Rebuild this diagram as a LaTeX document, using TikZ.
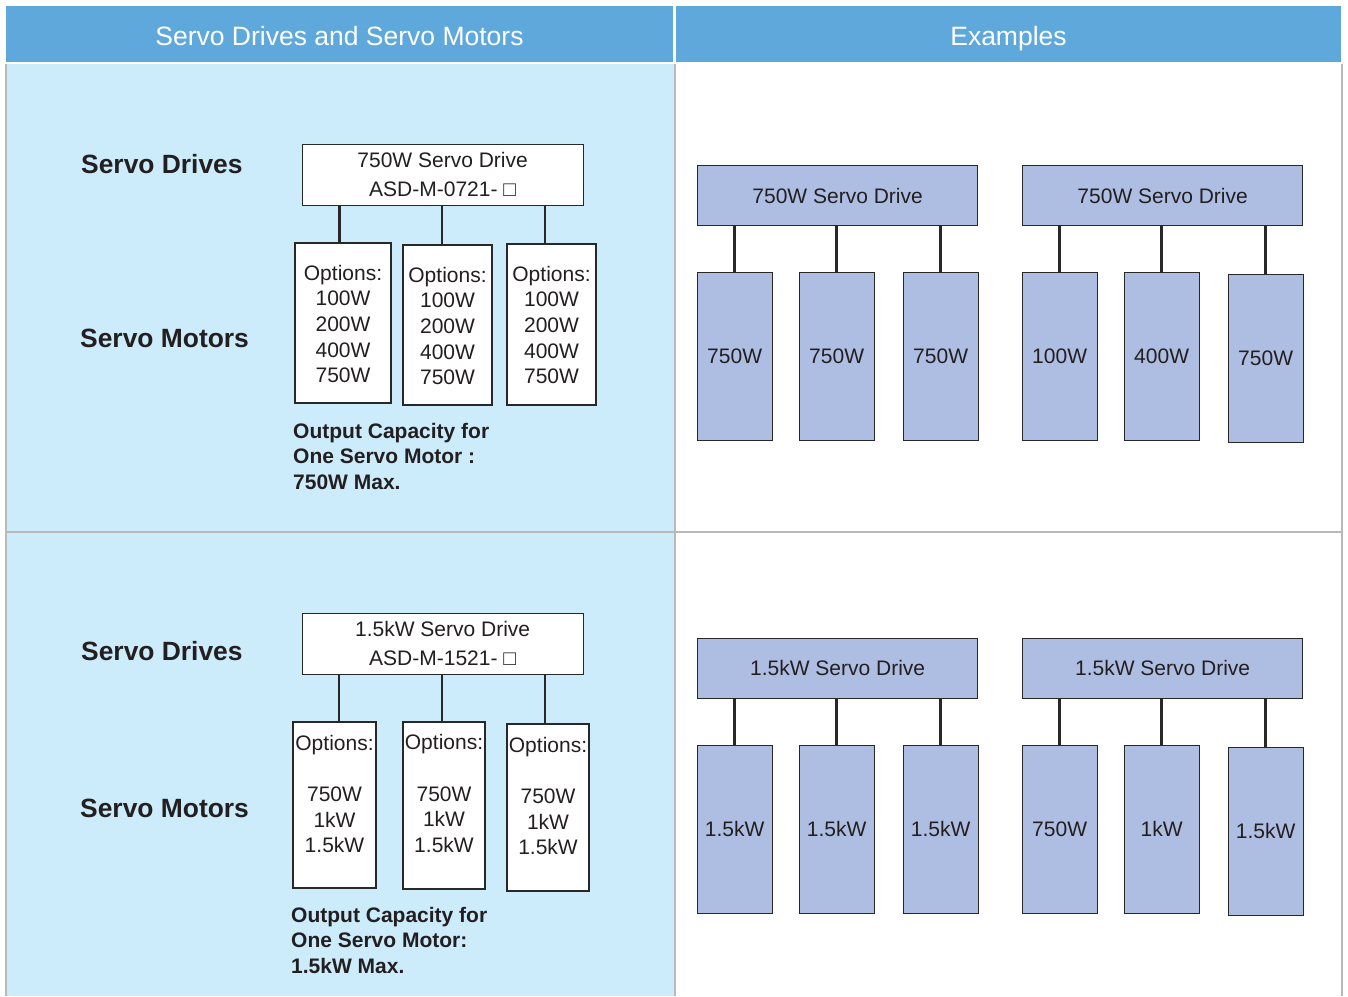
\documentclass[tikz,border=0pt]{standalone}
\usepackage{fontspec}
\setmainfont{Liberation Sans}
\usetikzlibrary{calc}
\definecolor{hdrblue}{RGB}{95,168,220}
\definecolor{paneblue}{RGB}{204,235,251}
\definecolor{boxfill}{RGB}{174,189,226}
\definecolor{gridgray}{RGB}{185,185,185}
\definecolor{textdark}{RGB}{35,31,32}
\definecolor{linedark}{RGB}{40,40,40}
\tikzset{
  hdrtext/.style={text=white, font=\fontsize{26.5}{30}\selectfont, inner sep=0, anchor=base},
  sidelabel/.style={text=textdark, font=\bfseries\fontsize{26.4}{30}\selectfont, anchor=west, inner sep=0},
  capnote/.style={text=textdark, font=\bfseries\fontsize{21}{25.5}\selectfont, anchor=north west, align=left, inner sep=0},
  drivebox/.style={draw=linedark, line width=1.3pt, fill=white, minimum width=281, minimum height=61, inner sep=0, text=textdark, align=center, font=\fontsize{21}{29}\selectfont},
  optbox/.style={draw=linedark, line width=1.3pt, fill=white, inner sep=0},
  opttext/.style={text=textdark, align=center, inner sep=0, font=\fontsize{21}{25.6}\selectfont},
  exdrive/.style={draw=linedark, line width=1.3pt, fill=boxfill, minimum width=280, minimum height=60, inner sep=0, text=textdark, font=\fontsize{21}{25}\selectfont},
  exmotor/.style={draw=linedark, line width=1.3pt, fill=boxfill, minimum width=75, minimum height=168, inner sep=0, text=textdark, font=\fontsize{21}{25}\selectfont},
  conn/.style={draw=linedark, line width=2.6pt},
  gridline/.style={draw=gridgray, line width=2pt}
}
\begin{document}
\begin{tikzpicture}[x=1pt,y=-1pt]
\useasboundingbox (0,0) rectangle (1348,996);
% headers
\fill[hdrblue] (6,6) rectangle (673,62);
\fill[hdrblue] (676,6) rectangle (1341,62);
\node[hdrtext] (h1) at (339.5,45.5) {Servo Drives and Servo Motors};
\node[hdrtext] (h2) at (1008.5,45.5) {Examples};
% panes
\fill[paneblue] (6,64) rectangle (674,996);
\draw[gridline] (6,64) -- (6,996);
\draw[gridline] (674.5,64) -- (674.5,996);
\draw[gridline] (1342,64) -- (1342,996);
\draw[gridline] (6,531.5) -- (1342,531.5);

% ===== top-left =====
\node[sidelabel] (sd1) at (81,164) {Servo Drives};
\node[sidelabel] (sm1) at (80,338) {Servo Motors};
\node[drivebox, anchor=north west] (d1) at (301.5,143.5) {750W Servo Drive\\ASD-M-0721- □};
\node[optbox, minimum width=96, minimum height=160] (o11) at (343,323) {};
\node[optbox, minimum width=89, minimum height=160] (o12) at (447.5,325) {};
\node[optbox, minimum width=89, minimum height=161] (o13) at (551.5,324.5) {};
\node[opttext] (t11) at (343,324) {Options:\\100W\\200W\\400W\\750W};
\node[opttext] (t12) at (447.5,326) {Options:\\100W\\200W\\400W\\750W};
\node[opttext] (t13) at (551.5,325) {Options:\\100W\\200W\\400W\\750W};
\draw[conn] ([xshift=38]d1.south west) -- ([xshift=38]d1.south west |- o11.north);
\draw[conn] ([xshift=140.5]d1.south west) -- ([xshift=140.5]d1.south west |- o12.north);
\draw[conn] ([xshift=243.5]d1.south west) -- ([xshift=243.5]d1.south west |- o13.north);
\node[capnote] (c1) at (293,423) {Output Capacity for\\One Servo Motor :\\750W Max.};

% ===== top-right =====
\node[exdrive, anchor=north west] (e1) at (697,165) {750W Servo Drive};
\node[exdrive, anchor=north west] (e2) at (1022,165) {750W Servo Drive};
\node[exmotor, anchor=north west] (m11) at (696.5,272) {750W};
\node[exmotor, anchor=north west] (m12) at (798.5,272) {750W};
\node[exmotor, anchor=north west] (m13) at (902.5,272) {750W};
\node[exmotor, anchor=north west] (m21) at (1021.5,272) {100W};
\node[exmotor, anchor=north west] (m22) at (1123.5,272) {400W};
\node[exmotor, anchor=north west] (m23) at (1227.5,274) {750W};
\foreach \m/\d in {m11/e1,m12/e1,m13/e1,m21/e2,m22/e2,m23/e2}
  \draw[conn] (\m.north |- \d.south) -- (\m.north);

% ===== bottom-left =====
\node[sidelabel] (sd2) at (81,651) {Servo Drives};
\node[sidelabel] (sm2) at (80,808) {Servo Motors};
\node[drivebox, anchor=north west] (d2) at (301.5,612.5) {1.5kW Servo Drive\\ASD-M-1521- □};
\node[optbox, minimum width=83, minimum height=166] (o21) at (334.5,805) {};
\node[optbox, minimum width=82, minimum height=167] (o22) at (444,805.5) {};
\node[optbox, minimum width=82, minimum height=167] (o23) at (548,807.5) {};
\node[opttext] (t21) at (334.5,794) {Options:\\[25.6pt]750W\\1kW\\1.5kW};
\node[opttext] (t22) at (444,793.5) {Options:\\[25.6pt]750W\\1kW\\1.5kW};
\node[opttext] (t23) at (548,796) {Options:\\[25.6pt]750W\\1kW\\1.5kW};
\draw[conn] ([xshift=37.5]d2.south west) -- ([xshift=37.5]d2.south west |- o21.north);
\draw[conn] ([xshift=140.5]d2.south west) -- ([xshift=140.5]d2.south west |- o22.north);
\draw[conn] ([xshift=243.5]d2.south west) -- ([xshift=243.5]d2.south west |- o23.north);
\node[capnote] (c2) at (291,907) {Output Capacity for\\One Servo Motor:\\1.5kW Max.};

% ===== bottom-right =====
\node[exdrive, anchor=north west] (e3) at (697,637.5) {1.5kW Servo Drive};
\node[exdrive, anchor=north west] (e4) at (1022,637.5) {1.5kW Servo Drive};
\node[exmotor, anchor=north west] (m31) at (696.5,744.5) {1.5kW};
\node[exmotor, anchor=north west] (m32) at (798.5,744.5) {1.5kW};
\node[exmotor, anchor=north west] (m33) at (902.5,744.5) {1.5kW};
\node[exmotor, anchor=north west] (m41) at (1021.5,744.5) {750W};
\node[exmotor, anchor=north west] (m42) at (1123.5,744.5) {1kW};
\node[exmotor, anchor=north west] (m43) at (1227.5,746.5) {1.5kW};
\foreach \m/\d in {m31/e3,m32/e3,m33/e3,m41/e4,m42/e4,m43/e4}
  \draw[conn] (\m.north |- \d.south) -- (\m.north);
\end{tikzpicture}
\end{document}
